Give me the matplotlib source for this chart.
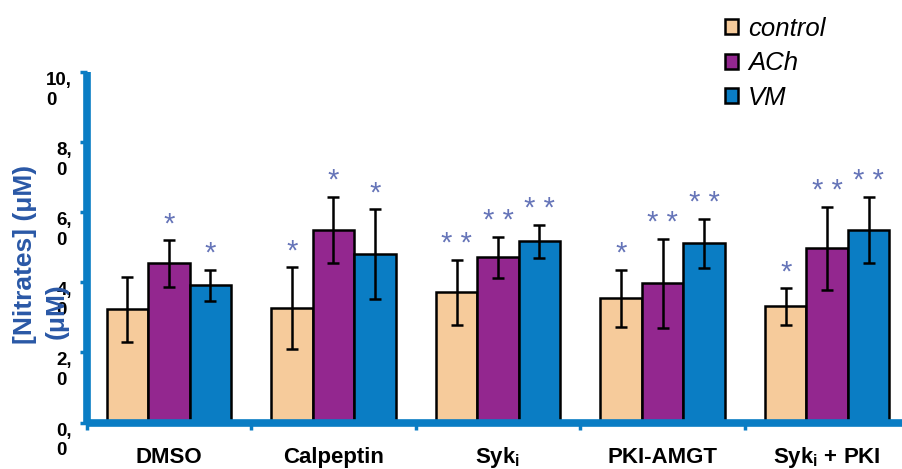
import matplotlib
matplotlib.use("Agg")
import matplotlib.pyplot as plt
import numpy as np
from matplotlib.patches import Patch
from matplotlib.transforms import ScaledTranslation

plt.rcParams['font.family'] = ['Liberation Sans', 'DejaVu Sans']
plt.rcParams['mathtext.fontset'] = 'custom'
plt.rcParams['mathtext.rm'] = 'Liberation Sans'
plt.rcParams['mathtext.bf'] = 'Liberation Sans:bold'
plt.rcParams['mathtext.it'] = 'Liberation Sans:italic'

categories = ['DMSO', 'Calpeptin', r'Syk$_\mathbf{i}$', 'PKI-AMGT', r'Syk$_\mathbf{i}$ + PKI']
series = ['control', 'ACh', 'VM']
control = [3.23, 3.26, 3.71, 3.54, 3.31]
ach = [4.54, 5.49, 4.71, 3.97, 4.97]
vm = [3.91, 4.80, 5.17, 5.11, 5.49]
control_err = [0.93, 1.17, 0.93, 0.82, 0.53]
ach_err = [0.67, 0.95, 0.58, 1.26, 1.19]
vm_err = [0.45, 1.28, 0.47, 0.70, 0.95]
control_sig = ['', '*', '**', '*', '*']
ach_sig = ['*', '*', '**', '**', '**']
vm_sig = ['*', '*', '**', '**', '**']
yticks = [0, 2, 4, 6, 8, 10]
ytick_labels = ['0,\n0', '2,\n0', '4,\n0', '6,\n0', '8,\n0', '10,\n0']

colors = ['#F6CB9B', '#93278F', '#0A7DC4']
axis_blue = '#0A7DC4'
star_color = '#6574B8'
label_blue = '#2A58A6'

W, H = 902, 469
fig = plt.figure(figsize=(W / 100, H / 100), dpi=100)
left_px, right_px = 86.5, 902
bot_px, top_px = 469 - 422.5, 469 - 72
ax = fig.add_axes([left_px / W, bot_px / H, (right_px - left_px) / W, (top_px - bot_px) / H])

x = np.arange(len(categories))
bw = 0.252
vals = [control, ach, vm]
errs = [control_err, ach_err, vm_err]
sigs = [control_sig, ach_sig, vm_sig]
for i in range(3):
    xs = x + (i - 1) * bw
    ax.bar(xs, vals[i], width=bw, color=colors[i], edgecolor='black', linewidth=1.8, zorder=2)
    ax.errorbar(xs, vals[i], yerr=errs[i], fmt='none', ecolor='black', elinewidth=1.8,
                capsize=4, capthick=1.8, zorder=3)
    for xi, v, e, s in zip(xs, vals[i], errs[i], sigs[i]):
        if s:
            ax.text(xi, v + e + 0.05, ' '.join(s) if len(s) > 1 else s, ha='center',
                    va='bottom', color=star_color, fontsize=21, zorder=4)

ax.set_xlim(-0.5, -0.5 + (right_px - left_px) / 164.6)
ax.set_ylim(0, 10)

for sp in ['top', 'right']:
    ax.spines[sp].set_visible(False)
for sp in ['left', 'bottom']:
    ax.spines[sp].set_color(axis_blue)
    ax.spines[sp].set_linewidth(5.5)
    ax.spines[sp].set_capstyle('butt')

ax.set_yticks(yticks)
ax.set_yticklabels(ytick_labels, fontsize=13.5, fontweight='bold', linespacing=1.2,
                   multialignment='left')
shift = ScaledTranslation(0, 0.03, fig.dpi_scale_trans)
for lab in ax.get_yticklabels():
    lab.set_va('top')
    lab.set_transform(lab.get_transform() + shift)
ax.tick_params(axis='y', colors=axis_blue, length=5, width=2.5, pad=5.5, labelcolor='black')

ax.set_xticks(x)
ax.set_xticklabels(categories, fontsize=16, fontweight='bold')
for lab in ax.get_xticklabels():
    lab.set_va('baseline')
ax.set_xticks(np.arange(len(categories)) - 0.5, minor=True)
ax.tick_params(axis='x', which='major', length=0, pad=29, labelcolor='black')
ax.tick_params(axis='x', which='minor', colors=axis_blue, length=5, width=2.5)

fig.text(25 / W, 1 - 254 / H, '[Nitrates] (\u03bcM)', rotation=90, ha='center', va='center',
         fontsize=19, fontweight='bold', color=label_blue)
fig.text(57 / W, 1 - 311 / H, '(\u03bcM)', rotation=90, ha='center', va='center',
         fontsize=19, fontweight='bold', color=label_blue)

handles = [Patch(facecolor=c, edgecolor='black', linewidth=1.8) for c in colors]
fig.legend(handles, series, loc='upper left', bbox_to_anchor=(725 / W, 1 - 17 / H),
           frameon=False, prop={'style': 'italic', 'size': 18.5},
           handlelength=0.52, handleheight=0.52, handletextpad=0.38, labelspacing=0.4,
           borderaxespad=0, borderpad=0)

fig.savefig('out.png', dpi=100)
